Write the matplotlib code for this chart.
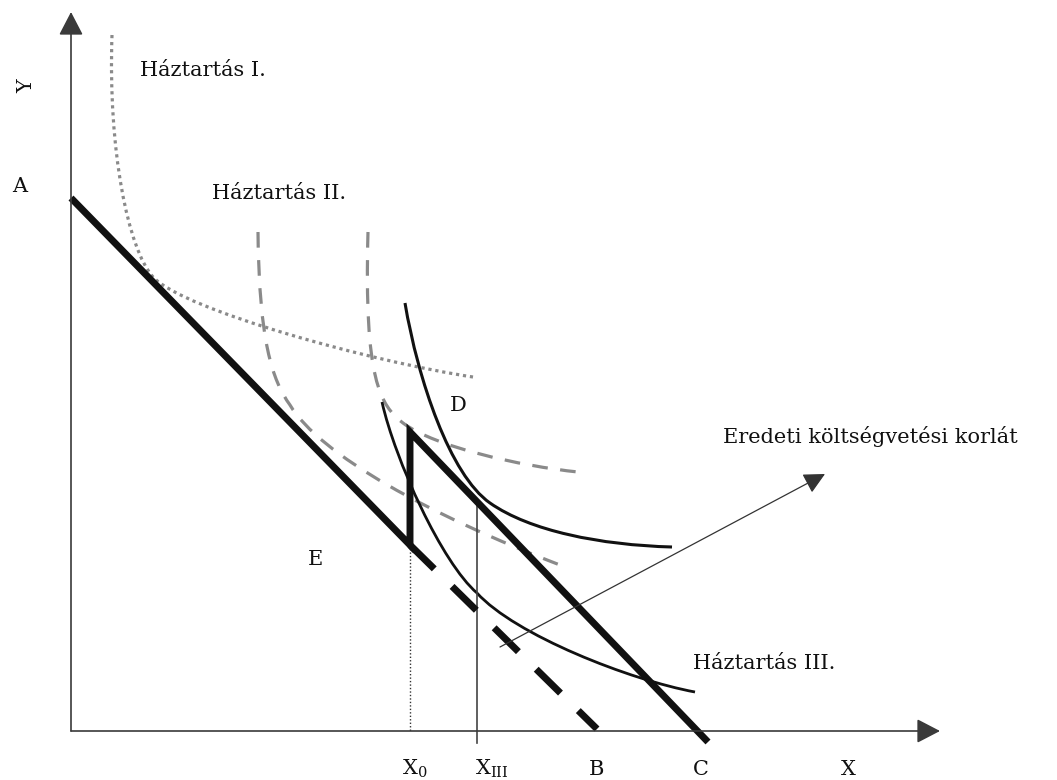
import matplotlib
matplotlib.use("Agg")
import matplotlib.pyplot as plt
from matplotlib.path import Path
from matplotlib.patches import PathPatch

plt.rcParams['font.family'] = ['DejaVu Serif']

# ---------------- data (diagram coordinates, pixel-like units, y downward) ----------------
# budget constraint: A -> kink at X0 -> jump up -> C
budget_x = [71, 410, 410, 708]
budget_y = [198, 545, 432, 742]
# original budget continuation (dashed) to B
orig_x = [410, 597]
orig_y = [545, 729]
# household I indifference curve (dotted), cubic bezier control points
hh1_x = [112, 108, 128, 153, 183, 373, 473]
hh1_y = [35, 150, 249, 277, 310, 362, 377]
# household II indifference curves (grey dashed)
hh2a_x = [258, 259, 272, 290, 320, 430, 560]
hh2a_y = [232, 340, 380, 405, 455, 515, 565]
hh2b_x = [368, 364, 380, 403, 435, 520, 578]
hh2b_y = [232, 380, 405, 423, 447, 466, 472]
# household III indifference curves (solid black)
hh3a_x = [405, 418, 450, 490, 530, 600, 672]
hh3a_y = [303, 380, 475, 503, 531, 545, 547]
hh3b_x = [382, 395, 442, 477, 515, 630, 695]
hh3b_y = [402, 460, 563, 593, 635, 680, 692]
# guide lines
x0_pos, x0_top, axis_y = 410, 545, 731
xiii_pos, xiii_top, xiii_bottom = 477, 503, 743
axis_x0, y_tip, x_tip = 71, 12, 940
arrow_from = (500, 647)
arrow_to = (825, 474)

labels = {
    "A": (20, 192), "E": (315, 565), "D": (458, 411),
}
tick_labels = [("$\\mathregular{X_0}$", 402), ("$\\mathregular{X_{III}}$", 475)]
center_labels = [("B", 597), ("C", 701), ("X", 848)]

# ---------------- figure ----------------
fig = plt.figure(figsize=(10.57, 7.80), dpi=100)
ax = fig.add_axes([0, 0, 1, 1])
ax.set_xlim(0, 1057)
ax.set_ylim(780, 0)
ax.axis('off')

def bezier(xs, ys, **kw):
    verts = list(zip(xs, ys))
    codes = [Path.MOVETO] + [Path.CURVE4] * (len(verts) - 1)
    ax.add_patch(PathPatch(Path(verts, codes), fill=False, **kw))

axis_col = '#3a3a3a'
arrow_kw = dict(arrowstyle='-|>,head_length=1.0,head_width=0.52', mutation_scale=14.4,
                color=axis_col, lw=1.2, shrinkA=0, shrinkB=0)
# axes
ax.annotate('', xy=(axis_x0, y_tip), xytext=(axis_x0, axis_y), arrowprops=arrow_kw)
ax.annotate('', xy=(x_tip, axis_y), xytext=(axis_x0, axis_y), arrowprops=arrow_kw)

grey = '#8a8a8a'
# household I (dotted)
bezier(hh1_x, hh1_y, edgecolor=grey, lw=2.3, linestyle=(0, (1, 1.2)), capstyle='butt')
# household II (dashed)
bezier(hh2a_x, hh2a_y, edgecolor=grey, lw=2.3, linestyle=(0, (4.9, 3.9)), capstyle='butt')
bezier(hh2b_x, hh2b_y, edgecolor=grey, lw=2.3, linestyle=(0, (4.9, 3.9)), capstyle='butt')
# household III (solid)
bezier(hh3a_x, hh3a_y, edgecolor='#111111', lw=2.2)
bezier(hh3b_x, hh3b_y, edgecolor='#111111', lw=2.0)

# guide lines
ax.plot([x0_pos, x0_pos], [x0_top, axis_y], color='#333333', lw=1.0, linestyle=(0, (1, 1.5)))
ax.plot([xiii_pos, xiii_pos], [xiii_top, xiii_bottom], color='#444444', lw=1.2)

# budget lines
ax.plot(budget_x, budget_y, color='#111111', lw=5, solid_capstyle='butt', solid_joinstyle='miter')
ax.plot(orig_x, orig_y, color='#111111', lw=5, linestyle=(0, (4.9, 3.6)), dash_capstyle='butt')

# explanatory arrow
ax.annotate('', xy=arrow_to, xytext=arrow_from,
            arrowprops=dict(arrowstyle='-|>,head_length=1.0,head_width=0.5', mutation_scale=13,
                            color='#333333', lw=0.9, shrinkA=0, shrinkB=0))

fs = 15
txt = '#111111'
ax.text(140, 76, "Háztartás I.", fontsize=fs, color=txt, ha='left', va='baseline')
ax.text(212, 199, "Háztartás II.", fontsize=fs, color=txt, ha='left', va='baseline')
ax.text(693, 669, "Háztartás III.", fontsize=fs, color=txt, ha='left', va='baseline')
ax.text(723, 443, "Eredeti költségvetési korlát", fontsize=fs, color=txt, ha='left', va='baseline')
for s, (x, y) in labels.items():
    ax.text(x, y, s, fontsize=fs, color=txt, ha='center', va='baseline')
ax.text(27, 86, "Y", fontsize=fs, color=txt, ha='center', va='center', rotation=90)
for s, x in tick_labels:
    ax.text(x, 775, s, fontsize=fs, color=txt, ha='left', va='baseline')
for s, x in center_labels:
    ax.text(x, 775, s, fontsize=fs, color=txt, ha='center', va='baseline')

fig.savefig('out.png', dpi=100)
